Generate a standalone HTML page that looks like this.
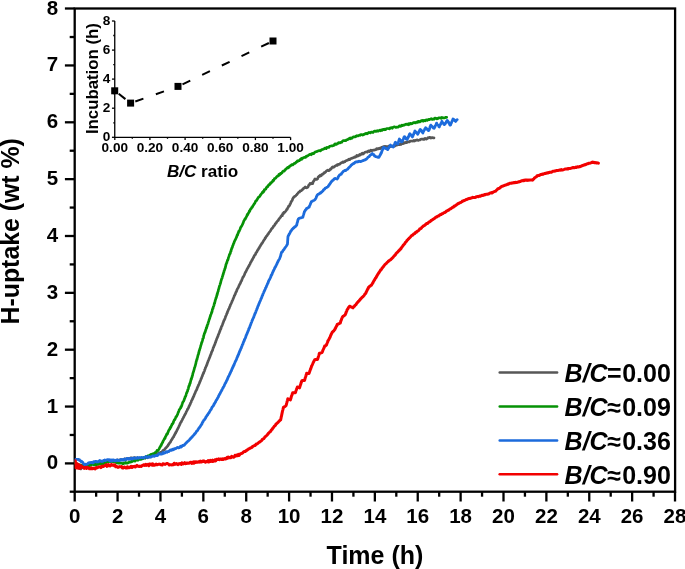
<!DOCTYPE html>
<html lang="en"><head><meta charset="utf-8"><title>H-uptake vs Time</title>
<style>html,body{margin:0;padding:0;background:#fff;}body{width:685px;height:569px;overflow:hidden;}svg{display:block;will-change:transform;}text{font-family:'Liberation Sans', sans-serif;font-weight:bold;fill:#000;}</style>
</head><body>
<svg width="685" height="569" viewBox="0 0 685 569">
<rect x="0" y="0" width="685" height="569" fill="#fff"/>
<rect x="74.7" y="8.5" width="600.4" height="483.2" fill="none" stroke="#000" stroke-width="2.3"/>
<g stroke="#000" stroke-width="2.3">
<line x1="74.70" y1="491.7" x2="74.70" y2="501.5"/>
<line x1="96.14" y1="491.7" x2="96.14" y2="496.7"/>
<line x1="117.58" y1="491.7" x2="117.58" y2="501.5"/>
<line x1="139.02" y1="491.7" x2="139.02" y2="496.7"/>
<line x1="160.46" y1="491.7" x2="160.46" y2="501.5"/>
<line x1="181.90" y1="491.7" x2="181.90" y2="496.7"/>
<line x1="203.34" y1="491.7" x2="203.34" y2="501.5"/>
<line x1="224.78" y1="491.7" x2="224.78" y2="496.7"/>
<line x1="246.22" y1="491.7" x2="246.22" y2="501.5"/>
<line x1="267.66" y1="491.7" x2="267.66" y2="496.7"/>
<line x1="289.10" y1="491.7" x2="289.10" y2="501.5"/>
<line x1="310.54" y1="491.7" x2="310.54" y2="496.7"/>
<line x1="331.98" y1="491.7" x2="331.98" y2="501.5"/>
<line x1="353.42" y1="491.7" x2="353.42" y2="496.7"/>
<line x1="374.86" y1="491.7" x2="374.86" y2="501.5"/>
<line x1="396.30" y1="491.7" x2="396.30" y2="496.7"/>
<line x1="417.74" y1="491.7" x2="417.74" y2="501.5"/>
<line x1="439.18" y1="491.7" x2="439.18" y2="496.7"/>
<line x1="460.62" y1="491.7" x2="460.62" y2="501.5"/>
<line x1="482.06" y1="491.7" x2="482.06" y2="496.7"/>
<line x1="503.50" y1="491.7" x2="503.50" y2="501.5"/>
<line x1="524.94" y1="491.7" x2="524.94" y2="496.7"/>
<line x1="546.38" y1="491.7" x2="546.38" y2="501.5"/>
<line x1="567.82" y1="491.7" x2="567.82" y2="496.7"/>
<line x1="589.26" y1="491.7" x2="589.26" y2="501.5"/>
<line x1="610.70" y1="491.7" x2="610.70" y2="496.7"/>
<line x1="632.14" y1="491.7" x2="632.14" y2="501.5"/>
<line x1="653.58" y1="491.7" x2="653.58" y2="496.7"/>
<line x1="675.02" y1="491.7" x2="675.02" y2="501.5"/>
<line x1="74.7" y1="491.70" x2="69.7" y2="491.70"/>
<line x1="74.7" y1="463.40" x2="64.9" y2="463.40"/>
<line x1="74.7" y1="434.97" x2="69.7" y2="434.97"/>
<line x1="74.7" y1="406.55" x2="64.9" y2="406.55"/>
<line x1="74.7" y1="378.12" x2="69.7" y2="378.12"/>
<line x1="74.7" y1="349.70" x2="64.9" y2="349.70"/>
<line x1="74.7" y1="321.27" x2="69.7" y2="321.27"/>
<line x1="74.7" y1="292.85" x2="64.9" y2="292.85"/>
<line x1="74.7" y1="264.42" x2="69.7" y2="264.42"/>
<line x1="74.7" y1="236.00" x2="64.9" y2="236.00"/>
<line x1="74.7" y1="207.57" x2="69.7" y2="207.57"/>
<line x1="74.7" y1="179.15" x2="64.9" y2="179.15"/>
<line x1="74.7" y1="150.72" x2="69.7" y2="150.72"/>
<line x1="74.7" y1="122.30" x2="64.9" y2="122.30"/>
<line x1="74.7" y1="93.87" x2="69.7" y2="93.87"/>
<line x1="74.7" y1="65.45" x2="64.9" y2="65.45"/>
<line x1="74.7" y1="37.02" x2="69.7" y2="37.02"/>
<line x1="74.7" y1="8.50" x2="64.9" y2="8.50"/>
</g>
<clipPath id="cp"><rect x="74.6" y="0" width="620" height="569"/></clipPath>
<g fill="none" stroke-width="2.9" stroke-linejoin="round" stroke-linecap="round" clip-path="url(#cp)">
<path stroke="#575757" stroke-width="2.7" d="M74.8,461.8 74.9,462.6 75.1,462.3 75.5,463.2 76.0,464.8 76.5,465.0 77.0,465.5 77.5,466.0 78.1,467.1 78.8,467.3 79.4,468.4 80.1,468.6 80.8,468.9 81.5,468.0 82.1,467.7 82.8,467.5 83.5,467.6 84.2,467.6 85.0,466.9 85.6,466.5 86.1,466.4 86.7,466.4 87.4,466.1 88.0,465.9 88.6,465.7 89.3,465.1 90.0,464.2 90.6,464.7 91.4,463.8 92.1,463.8 92.8,463.3 93.4,463.6 94.1,462.8 94.7,462.7 95.4,462.5 96.1,462.3 96.8,463.1 97.5,462.6 98.2,462.2 98.9,462.1 99.7,462.8 100.4,462.1 101.1,461.7 101.9,462.3 102.7,462.0 103.4,462.3 104.2,461.1 105.0,461.5 105.6,461.8 106.3,461.7 107.0,461.8 107.7,460.6 108.4,460.9 109.1,460.6 109.8,460.6 110.6,461.5 111.3,461.0 112.1,461.3 112.8,460.6 113.6,461.1 114.3,460.5 115.1,460.3 115.8,460.8 116.5,461.0 117.3,459.9 118.0,460.4 118.7,460.4 119.4,459.8 120.1,459.9 120.7,459.6 121.4,459.6 122.0,459.6 122.6,459.9 123.4,459.9 124.2,459.2 125.0,458.8 125.7,459.1 126.4,459.4 127.1,458.6 127.8,458.6 128.4,458.4 129.1,459.0 129.8,458.5 130.5,457.9 131.3,457.8 132.0,458.1 132.7,458.2 133.4,458.3 134.1,457.6 134.9,457.7 135.6,458.3 136.4,458.0 137.2,457.9 137.9,457.9 138.7,458.7 139.5,457.9 140.2,458.2 140.9,458.0 141.6,458.0 142.3,458.6 143.0,458.7 143.6,457.8 144.4,457.5 145.2,458.0 145.9,457.2 146.7,456.8 147.4,457.7 148.1,456.9 148.7,457.2 149.4,456.5 150.0,456.9 150.7,456.1 151.4,455.5 152.0,455.1 152.7,455.5 153.3,455.4 154.0,455.5 154.7,454.3 155.4,454.7 156.2,454.2 156.9,454.2 157.7,453.5 158.5,453.4 159.2,453.3 159.8,453.5 160.4,452.4 161.0,452.2 161.6,452.0 162.2,451.7 162.8,450.7 163.3,450.2 163.9,450.2 164.5,449.7 165.0,448.9 165.5,448.1 166.0,448.1 166.5,447.2 167.0,446.9 167.4,446.2 167.9,445.7 168.3,444.7 168.8,444.4 169.2,443.4 169.7,442.9 170.1,442.5 170.5,441.9 170.9,441.0 171.2,440.4 171.6,439.9 172.0,439.4 172.4,438.7 172.7,437.9 173.1,437.4 173.5,437.0 173.8,436.5 174.2,435.3 174.6,435.0 174.9,434.4 175.3,433.3 175.6,433.2 176.0,432.0 176.4,431.6 176.8,430.7 177.2,429.9 177.7,428.9 178.1,428.1 178.5,427.3 178.9,426.4 179.3,425.7 179.7,424.8 180.0,424.1 180.3,423.2 180.6,423.0 180.8,422.5 181.0,422.0 181.1,422.1 181.2,422.1 181.5,421.3 181.8,420.5 182.2,420.0 182.5,419.2 182.8,418.6 183.1,418.1 183.5,417.3 183.8,416.9 184.1,416.3 184.4,415.4 184.7,415.1 185.1,414.2 185.4,413.9 185.7,413.3 186.0,412.6 186.3,411.7 186.6,411.3 186.9,410.6 187.2,410.3 187.5,409.2 187.9,409.0 188.2,408.4 188.5,407.7 188.8,407.1 189.1,406.1 189.4,405.9 189.7,405.0 190.0,404.6 190.3,404.0 190.6,402.9 190.9,402.6 191.2,402.1 191.4,400.9 191.7,400.4 192.0,400.1 192.3,399.1 192.6,398.9 192.9,397.8 193.2,397.5 193.5,396.5 193.8,396.1 194.0,395.7 194.3,394.6 194.6,394.0 194.9,393.5 195.2,392.7 195.5,391.9 195.7,391.4 196.0,390.7 196.3,390.5 196.6,389.7 196.9,389.2 197.1,388.2 197.4,387.9 197.7,386.8 198.0,386.4 198.2,385.9 198.5,385.0 198.8,384.7 199.1,383.9 199.3,383.2 199.6,382.8 199.9,381.6 200.1,381.5 200.4,380.7 200.7,379.9 200.9,379.5 201.2,378.5 201.5,378.3 201.7,377.4 202.0,376.6 202.3,376.2 202.5,375.4 202.8,374.5 203.1,374.2 203.3,373.2 203.6,373.0 203.9,372.0 204.1,371.6 204.4,371.1 204.6,370.2 204.9,369.6 205.2,368.8 205.4,367.9 205.7,367.3 205.9,366.7 206.2,366.3 206.5,365.6 206.7,365.0 207.0,364.5 207.2,363.4 207.5,362.8 207.7,362.4 208.0,361.4 208.3,360.7 208.5,360.3 208.8,359.5 209.0,359.0 209.3,358.2 209.5,357.8 209.8,357.2 210.0,356.3 210.3,355.9 210.5,355.1 210.8,354.3 211.1,354.1 211.3,353.0 211.6,352.3 211.8,351.6 212.1,351.3 212.3,350.8 212.6,350.1 212.8,349.2 213.1,348.4 213.3,347.6 213.6,347.3 213.8,346.6 214.1,345.9 214.4,345.4 214.6,344.6 214.9,344.2 215.1,343.5 215.4,342.5 215.6,342.3 215.9,341.1 216.1,340.7 216.4,340.0 216.6,339.2 216.9,338.5 217.1,338.2 217.4,337.1 217.7,336.8 217.9,336.4 218.2,335.2 218.4,334.6 218.7,334.2 218.9,333.5 219.2,332.9 219.4,332.4 219.7,331.3 220.0,330.8 220.2,330.1 220.5,329.3 220.7,329.1 221.0,328.4 221.2,327.7 221.5,326.6 221.8,326.5 222.0,325.8 222.3,325.0 222.5,324.5 222.8,323.6 223.1,322.9 223.3,322.1 223.6,321.6 223.8,320.8 224.1,320.3 224.4,319.9 224.6,319.2 224.9,318.7 225.2,317.9 225.4,317.0 225.7,316.5 225.9,315.8 226.2,315.4 226.5,314.6 226.7,313.8 227.0,313.3 227.3,312.9 227.5,311.8 227.8,311.5 228.1,310.4 228.4,309.9 228.6,309.2 228.9,308.9 229.2,308.3 229.4,307.6 229.7,306.7 230.0,306.4 230.3,305.4 230.5,304.7 230.8,304.4 231.1,303.6 231.4,303.0 231.6,302.4 231.9,301.9 232.2,300.9 232.5,300.5 232.8,299.8 233.0,299.2 233.3,298.4 233.6,297.9 233.9,297.1 234.2,296.3 234.4,295.6 234.7,295.3 235.0,294.3 235.3,294.1 235.6,293.0 235.9,292.3 236.2,291.7 236.5,291.6 236.7,290.6 237.0,289.9 237.3,289.1 237.6,288.5 237.9,288.3 238.2,287.6 238.5,287.0 238.8,286.4 239.1,285.4 239.4,285.0 239.7,284.3 240.0,283.9 240.3,283.3 240.6,282.7 240.9,281.6 241.2,281.4 241.5,280.8 241.8,280.2 242.1,279.1 242.4,278.5 242.7,277.8 243.0,277.1 243.3,277.0 243.6,276.3 244.0,275.6 244.3,275.1 244.6,274.3 244.9,273.5 245.2,272.8 245.5,272.1 245.8,271.9 246.2,271.0 246.5,270.4 246.8,269.9 247.1,269.0 247.5,268.5 247.8,267.9 248.1,267.5 248.4,266.7 248.8,266.1 249.1,265.8 249.4,264.9 249.7,264.5 250.1,263.8 250.4,262.8 250.7,262.4 251.1,261.8 251.4,261.4 251.7,260.5 252.1,260.1 252.4,259.4 252.8,258.6 253.1,258.4 253.5,257.3 253.8,257.2 254.1,256.2 254.5,255.4 254.8,255.0 255.2,254.7 255.5,254.2 255.9,253.0 256.2,252.7 256.6,252.1 257.0,251.7 257.3,250.7 257.7,250.3 258.0,249.6 258.4,249.3 258.8,248.3 259.1,248.2 259.5,247.2 259.9,246.5 260.2,246.2 260.6,245.5 261.0,244.7 261.3,244.4 261.7,243.5 262.1,243.3 262.5,242.6 262.8,242.1 263.2,241.4 263.6,240.7 264.0,240.1 264.4,239.5 264.8,239.2 265.1,238.1 265.5,238.0 265.9,236.9 266.3,236.5 266.7,235.9 267.1,235.7 267.5,234.9 267.9,234.2 268.3,234.0 268.7,233.0 269.1,232.5 269.5,232.0 269.9,231.6 270.3,231.0 270.7,230.3 271.1,229.6 271.5,229.0 272.0,228.3 272.4,228.2 272.8,227.5 273.2,227.0 273.6,226.0 274.1,225.6 274.5,225.3 274.9,224.6 275.3,223.7 275.8,223.4 276.2,223.1 276.6,222.1 277.1,221.5 277.5,221.0 277.9,220.7 278.4,220.2 278.8,219.3 279.2,218.7 279.7,218.2 280.1,217.7 280.6,217.3 281.0,216.3 281.5,215.9 281.9,215.2 282.4,215.6 282.5,214.7 282.9,213.4 283.4,213.9 283.9,212.3 284.4,212.2 284.8,212.4 285.3,211.6 285.8,211.0 286.3,210.2 286.7,209.4 287.2,209.4 287.6,208.1 287.9,207.6 288.3,207.2 288.6,206.2 289.0,206.0 289.3,205.9 289.7,205.2 290.0,204.3 290.4,203.9 290.7,203.0 291.0,202.0 291.3,201.9 291.6,201.0 292.0,200.7 292.3,200.3 292.6,199.0 292.9,198.5 293.2,198.1 293.7,197.2 294.2,196.5 294.7,196.5 295.2,196.2 295.8,195.6 296.3,195.0 296.8,194.6 297.3,193.9 297.8,193.4 298.4,192.7 298.9,192.1 299.5,192.0 300.1,190.9 300.7,190.9 301.2,190.8 301.8,190.3 302.4,189.8 303.0,188.8 303.6,188.5 304.1,188.0 304.7,187.7 305.3,187.0 306.0,187.5 306.8,187.9 307.5,187.2 307.9,187.1 308.2,186.6 308.6,185.5 308.9,184.9 309.3,184.9 310.0,183.5 310.7,183.9 311.3,183.2 312.0,183.7 312.7,183.6 313.0,182.5 313.4,181.4 313.7,181.3 314.0,180.6 314.3,180.2 314.7,179.3 315.0,178.9 315.9,179.5 316.7,179.5 317.2,178.8 317.6,178.8 318.1,177.2 318.5,177.2 319.0,176.2 319.7,176.3 320.3,175.2 321.0,175.9 321.7,174.9 322.3,174.2 323.0,174.1 323.6,173.7 324.1,172.7 324.7,172.7 325.3,172.1 325.8,171.9 326.4,170.9 327.1,170.6 327.8,170.2 328.4,170.6 329.1,170.6 329.8,169.8 330.4,168.9 331.0,169.1 331.5,168.1 332.1,167.4 332.8,166.9 333.4,167.3 334.1,167.0 334.7,166.4 335.4,165.9 336.0,165.6 336.7,164.9 337.3,165.4 338.0,164.4 338.6,164.4 339.3,164.3 339.9,164.0 340.6,163.3 341.2,162.8 342.0,162.7 342.7,161.9 343.5,162.4 344.2,161.5 345.0,161.7 345.7,160.8 346.4,160.7 347.1,160.3 347.7,160.2 348.4,159.7 349.1,159.2 349.7,159.7 350.4,158.9 351.0,158.5 351.6,158.3 352.3,158.2 352.9,157.8 353.6,157.7 354.2,157.4 354.8,156.8 355.5,157.1 356.1,156.7 356.8,155.5 357.5,156.1 358.2,155.9 358.9,155.5 359.6,154.5 360.3,155.0 361.0,154.5 361.7,153.5 362.4,153.2 363.1,154.0 363.8,153.4 364.5,152.6 365.2,152.2 365.9,152.0 366.6,151.8 367.3,152.2 368.0,151.4 368.7,150.8 369.4,151.5 370.1,151.1 370.8,150.1 371.5,150.8 372.2,150.3 372.9,150.3 373.6,150.0 374.4,150.1 375.1,149.8 375.8,149.7 376.5,148.7 377.2,149.1 377.9,148.7 378.6,148.8 379.3,148.2 380.0,148.6 380.7,148.0 381.4,147.4 382.1,147.2 382.8,146.9 383.5,147.1 384.2,146.4 384.9,146.8 385.6,146.4 386.3,146.7 387.0,146.7 387.7,146.6 388.4,147.0 389.1,145.9 389.8,146.8 390.5,146.3 391.2,146.4 391.9,146.3 392.6,146.4 393.3,145.6 394.0,145.5 394.8,146.0 395.5,144.8 396.2,145.3 396.9,145.1 397.6,144.2 398.3,144.7 399.0,144.6 399.7,144.7 400.4,143.8 401.1,144.4 401.8,143.6 402.5,143.4 403.2,143.7 403.9,142.4 404.6,143.1 405.3,142.8 406.0,142.2 406.7,142.7 407.4,141.9 408.1,141.9 408.7,141.8 409.4,141.9 410.1,141.0 410.8,141.1 411.6,141.0 412.3,141.0 413.1,141.2 413.8,140.4 414.6,141.0 415.3,140.3 416.1,140.3 416.9,139.9 417.6,140.1 418.4,140.5 419.1,140.0 419.9,140.0 420.6,139.3 421.4,139.2 422.1,139.0 422.9,139.3 423.6,139.2 424.4,139.3 425.1,138.3 425.9,139.0 426.6,139.1 427.3,138.5 428.0,137.7 428.7,137.9 429.4,137.3 430.1,137.4 430.8,138.1 431.6,137.7 432.4,137.7 433.2,137.8 434.0,137.9"/>
<path stroke="#069206" stroke-width="2.7" d="M74.8,462.3 75.0,462.3 75.6,463.4 76.3,463.3 77.0,464.3 77.7,464.5 78.4,464.4 79.3,465.2 80.1,464.9 81.0,465.4 81.6,465.1 82.3,465.1 83.0,465.5 83.7,465.9 84.5,465.0 85.2,465.1 86.0,465.5 86.7,465.7 87.5,465.3 88.2,465.0 89.0,465.6 89.7,464.6 90.5,465.4 91.2,464.8 92.0,464.5 92.7,464.5 93.5,464.6 94.2,465.1 95.0,464.3 95.7,464.7 96.5,464.7 97.2,464.4 97.9,464.5 98.7,464.0 99.4,463.9 100.1,464.0 100.9,464.4 101.6,464.0 102.3,463.8 103.0,463.9 103.7,463.5 104.5,463.1 105.2,463.3 105.9,462.8 106.6,462.0 107.3,462.0 108.0,461.6 108.6,461.7 109.3,461.4 110.0,460.8 110.8,461.5 111.5,460.7 112.3,461.2 113.0,461.7 113.7,461.3 114.5,461.9 115.2,461.6 116.0,462.5 116.7,462.7 117.4,462.6 118.1,463.1 118.9,462.6 119.6,463.2 120.3,463.2 121.1,463.2 121.8,463.1 122.6,463.6 123.3,463.7 124.0,463.1 124.7,463.2 125.4,462.5 126.1,463.1 126.9,462.9 127.6,463.1 128.4,462.8 129.1,462.1 129.8,462.0 130.6,462.2 131.3,461.3 132.0,461.6 132.8,461.1 133.5,460.8 134.3,460.5 135.0,461.1 135.8,460.2 136.5,460.1 137.2,460.0 137.9,460.3 138.6,459.2 139.3,459.4 140.0,459.3 140.7,459.4 141.4,459.1 142.1,458.9 142.8,458.0 143.4,457.9 144.1,457.6 144.7,457.9 145.4,457.8 146.0,456.6 146.8,456.3 147.5,456.1 148.2,455.8 149.0,455.7 149.7,455.5 150.4,454.8 151.0,454.3 151.8,454.3 152.6,453.9 153.4,453.7 154.1,453.7 154.7,453.0 155.3,452.4 155.9,452.1 156.5,451.7 157.0,450.5 157.6,450.9 158.2,450.1 158.7,449.6 159.2,448.8 159.7,447.6 160.3,446.7 160.8,445.5 161.2,445.4 161.4,444.6 161.7,443.9 162.0,443.5 162.3,442.8 162.6,442.4 163.0,441.4 163.3,440.7 163.6,440.3 163.9,439.6 164.2,439.3 164.6,438.3 164.9,438.6 165.2,437.7 165.5,436.6 165.9,436.1 166.2,435.5 166.5,434.9 166.8,434.0 167.2,434.2 167.5,433.8 167.8,432.6 168.2,432.0 168.5,430.9 168.8,430.3 169.1,429.9 169.5,429.2 169.8,429.2 170.1,427.9 170.5,427.1 170.8,427.5 171.1,426.4 171.5,425.4 171.8,425.2 172.1,424.0 172.4,423.9 172.8,423.8 173.1,423.1 173.4,422.3 173.7,421.2 174.1,420.6 174.4,419.8 174.7,419.8 175.0,419.0 175.4,418.6 175.7,417.5 176.0,416.7 176.3,416.8 176.6,416.3 177.0,415.5 177.3,414.9 177.6,414.3 177.9,413.5 178.2,412.3 178.5,412.0 178.8,411.2 179.1,410.2 179.4,409.6 179.7,409.2 180.0,408.6 180.3,408.4 180.6,408.1 180.9,406.9 181.2,406.8 181.5,406.2 181.8,405.5 182.1,404.2 182.4,403.4 182.6,402.8 182.9,402.1 183.2,401.5 183.5,401.3 183.7,401.0 184.0,400.3 184.3,399.2 184.5,398.8 184.8,398.3 185.1,396.8 185.3,396.8 185.6,396.4 185.8,395.6 186.1,395.0 186.3,394.0 186.5,393.0 186.8,393.0 187.0,391.9 187.3,391.7 187.5,391.3 187.7,390.0 188.0,389.3 188.2,389.2 188.4,388.3 188.6,387.1 188.9,386.4 189.1,385.7 189.3,385.9 189.5,385.1 189.7,383.7 189.9,383.8 190.2,383.3 190.4,382.3 190.6,381.3 190.8,380.8 191.0,379.7 191.2,378.9 191.4,379.3 191.6,378.3 191.8,377.4 192.0,377.2 192.2,376.0 192.4,375.8 192.6,375.1 192.8,373.7 193.0,373.1 193.2,372.5 193.4,371.8 193.6,371.5 193.8,370.4 194.0,369.9 194.2,368.9 194.3,369.1 194.5,367.8 194.7,367.3 194.9,366.7 195.1,366.4 195.3,365.2 195.5,365.1 195.7,363.9 195.9,363.3 196.0,362.6 196.2,361.4 196.4,361.1 196.6,360.2 196.8,359.3 197.0,359.5 197.2,358.1 197.4,357.8 197.5,357.4 197.7,356.5 197.9,355.6 198.1,355.1 198.3,354.5 198.5,354.1 198.7,352.7 198.9,352.5 199.0,351.5 199.2,350.8 199.4,350.7 199.6,349.7 199.8,349.1 200.0,348.6 200.2,348.1 200.4,346.9 200.6,346.4 200.8,345.7 201.0,345.0 201.2,344.5 201.4,343.6 201.6,343.0 201.8,342.3 202.0,342.1 202.2,341.2 202.4,340.7 202.6,340.1 202.8,338.7 203.0,338.3 203.3,338.1 203.5,337.3 203.7,335.8 203.9,335.2 204.1,334.8 204.3,333.8 204.6,333.3 204.8,332.4 205.0,332.4 205.2,331.9 205.4,331.3 205.7,329.8 205.9,329.8 206.1,329.1 206.3,327.8 206.6,328.0 206.8,327.4 207.0,325.9 207.2,326.1 207.5,324.8 207.7,324.2 207.9,324.1 208.1,323.3 208.4,321.9 208.6,321.5 208.8,320.9 209.0,320.1 209.3,319.2 209.5,318.7 209.7,318.5 209.9,317.1 210.2,317.0 210.4,316.2 210.6,315.1 210.8,314.7 211.0,314.4 211.3,313.6 211.5,312.4 211.7,312.8 211.9,311.9 212.1,311.4 212.3,309.8 212.6,309.3 212.8,308.4 213.0,308.6 213.2,307.3 213.4,306.5 213.6,306.2 213.8,306.0 214.0,305.3 214.2,304.0 214.4,303.2 214.6,303.4 214.8,302.3 215.0,301.8 215.2,300.5 215.4,299.8 215.6,299.8 215.8,298.8 216.0,297.8 216.2,298.0 216.4,297.0 216.6,296.6 216.8,295.1 217.0,295.3 217.2,293.7 217.4,293.9 217.6,292.8 217.8,292.0 218.0,291.6 218.2,291.3 218.4,289.9 218.6,289.1 218.8,288.9 219.0,287.9 219.2,287.1 219.4,286.5 219.6,285.7 219.8,285.2 220.0,284.6 220.2,283.9 220.4,283.8 220.6,282.6 220.8,282.1 221.0,281.1 221.2,280.6 221.4,279.6 221.6,279.2 221.8,278.3 222.0,278.4 222.2,277.5 222.4,276.4 222.6,276.1 222.8,275.9 223.0,274.3 223.2,274.4 223.4,273.3 223.6,272.7 223.8,272.4 224.0,271.3 224.2,270.7 224.4,270.3 224.6,269.9 224.8,268.6 225.1,268.4 225.3,267.6 225.5,266.9 225.7,265.9 225.9,265.2 226.1,264.2 226.4,263.6 226.6,262.9 226.8,263.0 227.0,261.8 227.3,261.0 227.5,260.2 227.7,260.4 227.9,259.8 228.2,258.9 228.4,257.8 228.6,257.1 228.9,256.5 229.1,256.0 229.3,255.0 229.6,254.7 229.8,253.8 230.0,253.9 230.3,253.3 230.5,252.1 230.8,251.1 231.0,251.3 231.2,249.9 231.5,249.3 231.7,248.2 232.0,248.0 232.2,247.4 232.5,246.8 232.7,245.8 233.0,245.5 233.3,244.3 233.5,243.9 233.8,243.1 234.0,242.8 234.3,241.7 234.6,241.0 234.8,240.7 235.1,240.0 235.4,239.7 235.6,239.0 235.9,238.6 236.2,237.8 236.5,237.3 236.7,236.8 237.0,235.6 237.3,234.9 237.6,235.0 237.9,233.4 238.2,233.4 238.4,232.7 238.7,231.4 239.0,231.6 239.3,231.0 239.6,230.1 239.9,229.6 240.2,229.0 240.5,227.7 240.8,227.5 241.1,226.8 241.4,226.5 241.7,225.9 242.1,225.3 242.4,224.4 242.7,224.1 243.0,223.2 243.3,222.6 243.6,221.5 244.0,220.6 244.3,220.1 244.6,219.8 245.0,218.9 245.3,219.0 245.6,218.1 246.0,217.6 246.3,217.0 246.6,216.4 247.0,215.6 247.3,214.4 247.7,214.7 248.0,214.0 248.4,213.2 248.7,212.6 249.1,212.1 249.4,210.9 249.8,211.0 250.2,209.9 250.5,209.1 250.9,208.7 251.3,208.6 251.7,207.4 252.0,207.4 252.4,207.1 252.8,206.0 253.2,205.3 253.6,204.8 253.9,204.4 254.3,203.9 254.7,203.2 255.1,202.6 255.5,201.4 255.9,200.9 256.3,200.5 256.7,200.4 257.1,199.4 257.5,199.1 258.0,197.9 258.4,197.4 258.8,197.1 259.2,197.0 259.6,196.4 260.1,195.8 260.5,194.9 260.9,194.6 261.3,193.9 261.8,193.4 262.2,192.5 262.6,192.8 263.1,191.5 263.5,191.8 264.0,191.2 264.4,189.6 264.9,189.6 265.3,189.4 265.8,189.1 266.2,188.0 266.7,187.2 267.2,186.7 267.6,186.9 268.1,185.6 268.6,185.5 269.0,184.5 269.5,184.4 270.0,184.4 270.5,182.9 270.9,183.2 271.4,182.3 271.9,182.3 272.4,181.6 272.9,180.5 273.4,180.8 273.9,179.8 274.4,178.8 274.9,178.3 275.4,178.4 275.9,177.8 276.4,177.2 276.9,176.5 277.4,176.3 277.9,175.8 278.4,175.9 278.9,174.5 279.5,174.9 280.0,174.5 280.5,173.3 281.0,173.7 281.6,173.0 282.1,172.8 282.6,171.6 283.2,171.3 283.7,170.9 284.3,171.1 284.8,170.2 285.3,169.5 285.9,169.2 286.5,168.6 287.0,167.9 287.6,167.5 288.1,167.9 288.7,166.9 289.2,167.2 289.8,166.1 290.4,165.7 290.9,165.5 291.5,164.8 292.1,164.6 292.7,164.9 293.3,164.4 293.8,163.9 294.4,163.3 295.0,163.3 295.6,162.9 296.2,162.1 296.8,161.9 297.4,160.8 298.0,161.2 298.6,160.6 299.2,160.6 299.8,160.1 300.4,159.3 301.0,158.7 301.6,159.4 302.2,158.1 302.9,158.2 303.5,157.7 304.1,157.4 304.7,157.5 305.4,157.5 306.0,156.4 306.6,156.5 307.3,155.8 307.9,155.8 308.5,155.3 309.2,154.7 309.8,154.4 310.5,154.2 311.1,154.7 311.7,153.9 312.4,153.4 313.0,153.8 313.7,153.6 314.3,152.8 315.0,152.1 315.7,151.9 316.3,151.6 317.0,151.6 317.6,151.0 318.3,150.9 318.9,150.7 319.6,150.7 320.3,150.8 320.9,150.4 321.6,149.8 322.2,149.5 322.9,149.4 323.6,149.0 324.2,148.7 324.9,148.1 325.5,148.1 326.2,148.6 326.9,147.4 327.5,147.5 328.2,147.4 328.8,147.4 329.5,146.4 330.1,146.2 330.8,146.0 331.5,145.9 332.1,145.7 332.8,145.9 333.4,145.6 334.1,145.3 334.7,144.1 335.4,143.9 336.0,144.3 336.7,144.3 337.3,143.5 338.0,143.4 338.6,142.5 339.2,142.6 339.9,143.0 340.5,142.6 341.2,142.3 341.8,142.2 342.5,141.1 343.1,140.7 343.8,140.5 344.4,140.6 345.0,140.6 345.7,140.6 346.3,140.1 347.0,139.8 347.6,139.6 348.3,139.1 348.9,138.9 349.6,138.1 350.3,138.7 350.9,137.9 351.6,138.4 352.2,137.9 352.9,137.3 353.5,136.8 354.2,136.8 354.9,137.0 355.5,136.8 356.2,136.0 356.9,135.7 357.5,136.0 358.2,135.9 358.9,135.5 359.5,135.1 360.2,135.3 360.9,134.5 361.5,134.6 362.2,134.6 362.9,135.0 363.6,134.4 364.2,134.5 364.9,133.9 365.6,133.5 366.3,133.3 366.9,133.9 367.6,133.5 368.3,132.8 369.0,132.4 369.7,132.7 370.3,132.8 371.0,132.3 371.7,132.0 372.4,132.3 373.1,132.4 373.8,131.5 374.4,131.1 375.1,131.3 375.8,131.2 376.5,131.3 377.2,130.7 377.9,131.2 378.6,130.9 379.2,130.5 379.9,130.1 380.6,130.7 381.3,129.9 382.0,130.3 382.7,129.5 383.4,129.3 384.0,129.8 384.7,129.1 385.4,129.7 386.1,129.0 386.8,128.6 387.5,128.5 388.2,128.5 388.9,128.7 389.6,128.8 390.2,127.8 390.9,127.9 391.6,127.6 392.3,128.3 393.0,127.2 393.7,127.0 394.4,126.8 395.1,127.0 395.7,127.4 396.4,127.3 397.1,127.0 397.8,127.1 398.5,126.9 399.2,126.1 399.9,125.8 400.5,126.4 401.2,126.1 401.9,125.1 402.6,125.7 403.3,125.2 404.0,125.1 404.7,124.9 405.3,124.5 406.0,124.2 406.7,124.3 407.4,124.2 408.1,124.7 408.8,123.7 409.4,124.4 410.1,123.4 410.8,123.4 411.5,123.8 412.2,123.6 412.9,123.0 413.5,122.5 414.2,122.8 414.9,122.5 415.6,122.9 416.3,122.0 417.0,122.0 417.6,122.4 418.3,121.3 419.0,121.6 419.7,121.9 420.4,121.6 421.1,120.7 421.7,120.5 422.4,120.4 423.1,121.2 423.8,120.3 424.5,120.7 425.2,120.8 425.8,120.0 426.5,119.8 427.2,120.4 427.9,119.9 428.6,119.4 429.3,119.7 430.0,119.2 430.7,119.0 431.3,118.6 432.0,119.3 432.7,119.4 433.4,118.9 434.1,119.2 434.8,118.1 435.5,118.2 436.2,118.4 436.9,118.8 437.6,118.7 438.3,118.0 439.0,117.8 439.7,117.9 440.4,117.9 441.1,118.3 441.8,117.4 442.5,118.0 443.2,117.9 443.9,117.9 444.6,117.8 445.3,117.6 446.0,117.3 446.7,117.3"/>
<path stroke="#1c6bdc" stroke-width="2.8" d="M74.8,459.9 75.3,459.7 76.3,459.3 77.3,459.3 78.0,459.3 78.6,459.8 79.3,459.6 80.0,460.7 80.6,460.9 81.2,461.8 81.8,461.5 82.3,462.1 82.9,462.4 83.4,463.8 84.2,464.5 85.1,464.5 85.7,464.1 86.3,464.5 87.1,464.2 87.8,463.6 88.6,462.9 89.5,462.7 90.1,462.8 90.8,462.5 91.5,462.5 92.2,462.6 92.9,462.9 93.7,461.6 94.5,462.1 95.3,461.3 96.0,461.3 96.8,462.0 97.6,461.6 98.3,461.9 99.0,461.2 99.7,460.5 100.5,460.9 101.2,461.1 101.9,461.4 102.6,461.4 103.4,460.6 104.1,460.4 104.8,460.0 105.5,460.6 106.3,460.0 107.0,459.8 107.7,459.6 108.5,459.6 109.2,460.5 109.9,459.8 110.7,461.0 111.4,459.9 112.1,460.9 112.9,460.0 113.6,459.9 114.3,460.8 115.1,460.2 115.8,460.8 116.5,460.0 117.3,459.8 118.0,460.7 118.7,460.5 119.5,460.6 120.2,460.3 120.9,459.4 121.7,460.0 122.4,460.0 123.1,459.5 123.8,460.0 124.5,459.1 125.3,459.9 126.0,459.5 126.8,458.5 127.5,458.4 128.3,459.2 129.0,459.3 129.7,458.3 130.5,458.5 131.2,459.0 132.0,458.2 132.7,459.0 133.4,458.4 134.1,457.8 134.8,458.1 135.5,458.3 136.2,458.1 136.9,458.3 137.6,457.5 138.4,458.3 139.2,457.6 140.0,457.9 140.6,457.8 141.3,457.5 141.9,457.3 142.6,457.8 143.3,457.9 143.9,457.7 144.7,457.3 145.4,456.9 146.1,456.5 146.8,457.6 147.6,457.2 148.3,457.3 149.0,456.5 149.8,456.8 150.5,457.2 151.2,456.9 152.0,456.5 152.7,455.9 153.4,456.0 154.1,456.4 154.8,455.6 155.5,455.8 156.2,455.5 156.9,455.7 157.6,455.4 158.3,454.5 159.0,453.9 159.7,454.0 160.4,454.0 161.1,453.9 161.8,454.0 162.5,453.8 163.1,452.5 163.8,453.3 164.5,453.0 165.1,452.9 165.7,452.2 166.4,451.6 167.0,452.2 167.5,451.9 168.1,451.5 168.9,451.6 169.6,450.5 170.4,449.9 171.1,450.3 171.7,450.3 172.4,449.3 173.0,449.8 173.7,449.7 174.3,448.6 175.0,448.8 175.7,448.7 176.4,448.2 177.1,447.6 177.8,447.5 178.5,447.9 179.2,447.7 179.9,447.1 180.5,446.3 181.1,447.0 181.8,446.6 182.5,445.5 183.2,445.5 183.8,445.4 184.4,445.0 185.0,444.0 185.6,443.5 186.2,443.1 186.7,442.3 187.3,441.8 187.8,441.3 188.4,441.0 188.9,440.3 189.4,439.9 189.9,439.2 190.5,438.7 191.0,437.9 191.5,437.3 192.0,437.3 192.5,436.3 193.1,435.6 193.6,435.3 194.1,434.8 194.7,433.8 195.2,433.5 195.7,432.7 196.1,432.3 196.5,431.4 196.9,430.9 197.3,430.9 197.7,430.2 198.1,429.4 198.5,428.8 198.9,428.1 199.3,427.8 199.8,426.9 200.3,426.4 200.8,425.5 201.4,424.7 201.9,423.9 202.3,422.8 202.7,422.1 202.9,421.9 202.8,421.7 203.3,421.0 203.7,420.4 204.1,420.1 204.5,419.7 204.9,418.9 205.2,418.6 205.6,418.0 206.0,416.9 206.4,416.6 206.8,415.9 207.2,415.2 207.6,415.1 208.0,414.0 208.3,413.6 208.7,413.1 209.1,412.7 209.5,411.9 209.9,411.1 210.2,410.6 210.6,409.8 211.0,409.7 211.3,409.1 211.7,408.0 212.1,407.3 212.4,406.8 212.8,406.3 213.2,406.0 213.5,405.4 213.9,404.8 214.2,403.7 214.6,403.5 214.9,402.9 215.3,402.2 215.6,401.8 216.0,400.6 216.3,400.1 216.7,399.8 217.0,399.3 217.4,398.6 217.7,397.7 218.1,397.3 218.4,396.8 218.7,395.7 219.1,395.3 219.4,394.6 219.7,393.9 220.1,393.5 220.4,392.7 220.7,392.1 221.1,391.4 221.4,391.1 221.7,390.1 222.0,389.9 222.4,389.0 222.7,388.2 223.0,388.2 223.3,387.1 223.6,386.9 224.0,386.2 224.3,385.6 224.6,384.5 224.9,384.1 225.2,383.3 225.5,383.1 225.8,382.4 226.2,381.7 226.5,380.9 226.8,380.2 227.1,379.9 227.4,379.1 227.7,378.5 228.0,377.6 228.3,377.0 228.6,376.3 228.9,376.0 229.2,375.3 229.5,374.4 229.8,374.2 230.1,373.2 230.4,372.7 230.7,371.9 231.0,371.3 231.3,371.0 231.6,370.1 231.9,369.3 232.1,368.9 232.4,368.1 232.7,367.8 233.0,366.7 233.3,366.6 233.6,365.4 233.9,365.3 234.2,364.5 234.4,363.6 234.7,363.1 235.0,362.3 235.3,361.7 235.6,361.0 235.9,360.4 236.1,360.2 236.4,359.5 236.7,358.8 237.0,357.7 237.2,357.2 237.5,356.9 237.8,355.7 238.1,355.5 238.4,354.6 238.6,354.3 238.9,353.1 239.2,352.9 239.5,352.0 239.7,351.2 240.0,350.5 240.3,350.3 240.5,349.5 240.8,348.7 241.1,348.2 241.4,347.8 241.6,346.7 241.9,346.3 242.2,345.4 242.4,344.7 242.7,344.4 243.0,343.8 243.2,342.8 243.5,342.1 243.8,341.4 244.0,341.1 244.3,340.4 244.6,339.6 244.8,338.9 245.1,338.5 245.4,337.9 245.6,337.3 245.9,336.5 246.1,335.6 246.4,334.9 246.7,334.6 246.9,333.8 247.2,333.3 247.5,332.3 247.7,332.1 248.0,331.1 248.3,330.8 248.5,330.1 248.8,329.2 249.0,328.3 249.3,328.2 249.6,327.3 249.8,326.9 250.1,325.8 250.4,325.1 250.6,324.9 250.9,323.9 251.1,323.2 251.4,322.6 251.7,322.1 251.9,321.1 252.2,320.7 252.4,320.0 252.7,319.4 253.0,318.5 253.2,318.2 253.5,317.6 253.8,317.0 254.0,316.0 254.3,315.6 254.6,314.8 254.8,314.3 255.1,313.3 255.3,313.1 255.6,312.5 255.9,311.6 256.1,310.9 256.4,310.3 256.7,309.6 256.9,308.7 257.2,308.6 257.5,307.5 257.7,306.8 258.0,306.1 258.3,305.5 258.5,305.2 258.8,304.1 259.1,303.5 259.3,303.2 259.6,302.2 259.9,301.5 260.1,301.2 260.4,300.5 260.7,299.8 260.9,299.3 261.2,298.3 261.5,298.1 261.8,297.3 262.0,296.3 262.3,295.7 262.6,295.3 262.8,294.6 263.1,293.8 263.4,293.1 263.7,292.6 263.9,291.8 264.2,291.4 264.5,290.9 264.8,289.9 265.1,289.5 265.3,288.9 265.6,287.9 265.9,287.7 266.2,287.1 266.5,286.1 266.7,285.5 267.0,285.1 267.3,284.3 267.6,283.6 267.9,283.2 268.2,282.5 268.4,281.6 268.7,280.9 269.0,280.3 269.3,279.7 269.6,279.4 269.9,278.7 270.2,278.1 270.5,277.4 270.8,276.8 271.1,275.6 271.4,275.3 271.7,274.9 272.0,274.3 272.3,273.2 272.5,272.7 272.8,272.2 273.1,271.4 273.5,270.8 273.8,269.9 274.1,269.5 274.4,268.9 274.7,268.0 275.0,267.4 275.3,267.3 275.6,266.5 275.9,266.0 276.2,265.2 276.5,264.7 276.8,264.1 277.1,263.5 277.5,262.3 277.8,262.1 278.1,261.2 278.4,260.8 278.7,260.0 279.1,259.5 279.4,259.1 279.7,258.3 280.0,257.4 280.3,256.9 280.5,256.1 280.7,255.7 280.9,254.5 281.1,253.8 281.3,253.3 281.5,252.2 281.9,252.0 282.4,251.7 282.9,250.8 283.3,250.1 283.8,249.7 284.2,249.1 284.7,248.3 285.1,247.7 285.6,247.0 286.0,246.5 286.5,245.8 286.9,245.1 287.4,244.3 287.5,243.5 287.5,243.1 287.6,242.6 287.6,241.7 287.7,240.9 287.7,240.2 287.8,239.2 287.8,238.8 287.9,237.9 287.9,237.3 288.0,236.6 288.3,235.9 288.7,235.1 289.0,234.5 289.4,233.8 289.7,233.4 290.0,232.7 290.4,232.2 290.7,231.2 291.1,230.8 291.4,230.6 291.9,229.6 292.4,229.2 293.0,228.6 293.5,227.9 294.0,227.8 294.6,226.9 295.2,226.8 295.9,225.9 296.5,225.4 296.7,225.3 296.9,224.3 297.0,223.3 297.2,222.9 297.4,222.2 297.6,221.7 297.8,220.6 297.9,220.0 298.1,219.8 298.3,219.0 299.1,218.3 299.8,218.1 300.6,217.8 301.3,217.8 302.1,217.5 302.8,217.3 303.0,216.6 303.2,215.7 303.4,215.1 303.6,214.4 303.9,213.7 304.1,212.8 304.3,212.3 304.5,211.5 305.0,211.0 305.5,209.8 306.0,209.7 306.5,208.5 307.1,208.5 307.8,207.9 308.5,207.4 309.1,207.2 309.4,206.3 309.7,205.5 310.0,205.1 310.2,204.6 310.5,203.7 310.8,202.9 311.1,202.3 311.4,201.7 312.1,201.5 312.8,200.8 313.6,200.5 314.3,200.2 315.0,199.7 315.3,199.0 315.7,198.7 316.0,198.0 316.3,197.1 316.6,196.4 317.0,195.6 317.3,195.0 318.0,194.4 318.7,194.2 319.3,193.8 320.0,193.0 320.7,193.1 321.3,192.1 321.8,191.9 322.4,191.3 323.0,190.9 323.5,189.8 324.1,189.3 324.7,189.2 325.2,188.2 325.8,187.8 326.4,187.7 327.0,187.2 327.5,187.0 328.1,186.5 328.5,185.7 329.0,185.4 329.4,184.5 329.9,183.9 330.3,183.4 330.8,182.6 331.2,181.9 331.7,181.5 332.1,180.7 332.7,180.7 333.3,180.0 333.8,179.4 334.4,178.7 335.0,178.4 335.7,178.6 336.5,178.8 337.2,179.0 337.5,178.5 337.9,178.0 338.2,177.0 338.5,176.4 338.9,175.9 339.2,175.5 339.9,174.7 340.6,174.4 341.3,174.1 341.8,173.0 342.4,172.4 342.9,172.1 343.4,171.3 344.1,170.9 344.8,170.4 345.5,170.7 346.1,170.1 346.7,169.7 347.3,169.3 347.9,168.8 348.5,168.0 349.1,167.4 349.6,166.9 350.1,166.6 350.6,166.1 351.1,165.3 351.6,164.8 352.1,164.6 352.6,164.1 353.3,163.5 354.0,163.5 354.7,162.8 355.4,162.0 356.1,161.8 356.8,162.0 357.5,161.6 358.2,161.8 358.9,161.2 359.6,161.3 360.3,161.6 361.0,161.3 361.7,161.3 362.4,160.7 363.1,160.6 363.8,160.4 364.5,159.9 365.2,159.9 365.8,159.4 366.4,159.2 366.9,158.5 367.5,157.9 368.1,157.2 368.7,156.8 369.2,156.7 369.7,155.7 370.2,155.2 370.8,154.8 371.3,154.5 371.8,154.2 372.3,153.6 372.9,154.3 373.4,154.3 374.0,154.8 374.5,155.9 375.1,156.2 375.8,156.7 376.5,156.8 377.2,156.9 377.9,157.3 378.6,157.4 379.0,157.3 379.4,156.4 379.9,155.5 380.3,154.9 380.7,154.1 381.0,153.2 381.3,153.1 381.5,152.2 381.8,151.7 382.1,150.7 382.4,150.1 382.7,149.1 382.9,148.3 383.2,148.2 383.5,147.4 384.2,147.4 384.9,148.2 385.6,148.5 386.3,148.5 387.0,149.0 387.7,149.6 388.1,148.7 388.5,148.4 388.9,147.3 389.3,146.8 389.7,146.5 390.1,145.5 390.5,145.0 391.1,145.8 391.6,145.9 392.2,146.6 392.7,146.6 393.3,147.0 393.6,146.4 393.9,145.6 394.2,145.4 394.5,144.3 394.8,143.7 395.1,142.7 395.4,142.3 395.9,142.7 396.5,143.3 397.1,143.6 397.6,144.1 397.9,143.9 398.1,142.8 398.4,142.0 398.6,141.3 398.9,140.6 399.1,139.8 399.4,139.0 399.9,140.0 400.4,140.3 400.9,140.8 401.4,141.8 401.9,141.9 402.2,141.4 402.5,141.1 402.8,140.0 403.1,139.6 403.3,139.2 403.6,138.5 403.9,137.5 404.2,136.9 404.5,136.6 404.9,136.9 405.4,137.9 405.8,137.9 406.2,139.0 406.7,139.2 407.1,139.6 407.4,139.1 407.7,138.2 408.0,137.9 408.3,136.9 408.6,136.7 408.9,135.8 409.2,135.0 409.5,134.2 409.8,133.8 410.3,134.1 410.8,135.2 411.4,135.4 411.9,136.3 412.4,136.9 412.7,136.1 413.0,135.8 413.3,134.9 413.6,134.4 413.8,133.7 414.1,132.9 414.4,132.3 414.7,131.5 415.0,130.9 415.5,132.0 416.1,132.3 416.6,133.1 417.2,133.4 417.7,134.3 418.0,133.6 418.4,133.1 418.7,132.3 419.0,131.5 419.3,131.0 419.6,130.4 420.0,129.7 420.3,129.5 420.7,129.7 421.2,130.4 421.6,131.3 422.0,131.8 422.5,132.4 422.9,133.0 423.2,131.8 423.6,131.3 423.9,130.5 424.2,130.3 424.6,129.6 424.9,128.8 425.3,128.2 425.6,127.7 426.1,128.3 426.6,128.5 427.1,129.4 427.7,129.6 428.2,130.4 428.7,130.6 429.0,129.8 429.2,129.7 429.5,128.9 429.8,128.2 430.0,127.0 430.3,126.4 430.5,125.8 430.8,125.1 431.3,125.7 431.9,126.3 432.4,126.6 432.9,127.3 433.5,128.1 434.0,128.3 434.3,128.1 434.6,127.3 435.0,126.7 435.3,125.8 435.6,125.3 436.0,124.8 436.3,123.9 436.6,123.1 437.1,124.2 437.5,124.8 438.0,125.0 438.4,125.4 438.9,126.6 439.3,127.0 439.6,125.9 439.9,125.4 440.3,124.6 440.6,124.5 440.9,123.4 441.2,123.2 441.6,122.4 441.9,121.3 442.4,122.4 442.9,122.8 443.5,123.7 444.0,124.4 444.5,124.6 444.9,123.9 445.3,123.8 445.7,122.8 446.0,122.5 446.4,121.6 446.8,121.0 447.2,120.4 447.6,120.9 448.0,121.4 448.4,121.8 448.8,122.9 449.1,123.3 449.5,124.0 449.9,125.0 450.3,125.0 450.6,124.8 450.9,123.6 451.2,123.3 451.5,122.7 451.8,121.6 452.1,121.1 452.4,120.7 452.7,119.8 453.0,119.0 453.5,119.3 454.0,119.7 454.6,120.5 455.1,121.0 455.6,121.4 456.1,120.8 456.7,119.9 457.2,119.6"/>
<path stroke="#f20000" stroke-width="3" d="M75.3,460.8 75.6,467.6 76.2,463.2 76.9,468.0 77.6,464.0 78.4,468.2 79.3,465.0 80.2,468.4 81.2,465.9 83.2,467.4 84.2,468.3 85.1,467.3 85.7,467.3 86.4,468.4 87.1,467.2 87.8,468.0 88.6,467.7 89.4,468.7 90.1,468.3 90.9,468.8 91.7,467.8 92.5,468.7 93.2,468.6 93.9,468.3 94.6,468.8 95.4,468.9 96.1,467.5 96.8,467.7 97.5,467.7 98.2,467.3 98.9,466.9 99.5,467.1 100.2,466.8 100.9,467.6 101.6,466.9 102.3,466.1 103.0,466.3 103.7,466.4 104.4,465.9 105.1,465.4 105.7,465.0 106.4,464.8 107.0,466.4 107.8,465.8 108.5,464.5 109.2,465.6 110.0,466.0 110.7,465.2 111.4,464.4 112.1,465.2 112.9,465.2 113.6,464.9 114.3,465.7 115.0,464.9 115.8,466.8 116.5,466.4 117.2,466.6 118.0,467.4 118.7,467.1 119.4,466.6 120.2,466.8 121.0,466.7 121.7,466.6 122.4,468.0 123.1,468.1 123.8,467.1 124.6,466.9 125.3,467.7 126.0,468.0 126.7,468.1 127.4,466.7 128.0,467.8 128.9,467.8 129.6,467.6 130.4,466.8 131.1,466.4 132.0,467.5 132.6,466.5 133.3,466.5 134.0,466.7 134.7,466.3 135.4,467.0 136.2,465.9 136.9,465.4 137.7,466.2 138.5,466.2 139.2,466.5 140.0,466.2 140.7,466.4 141.4,466.4 142.1,465.5 142.8,465.5 143.5,464.8 144.2,465.0 144.9,465.4 145.6,464.4 146.4,465.4 147.2,464.4 148.0,464.9 148.8,465.7 149.4,464.1 150.0,464.0 150.6,464.7 151.3,464.2 152.0,465.1 152.7,463.8 153.4,465.3 154.1,465.3 154.8,465.1 155.5,464.4 156.2,464.1 157.0,464.8 157.7,464.5 158.5,464.3 159.2,464.1 160.0,464.3 160.7,464.7 161.5,464.9 162.2,465.1 162.9,463.7 163.6,463.9 164.4,464.2 165.1,464.4 165.7,463.9 166.4,463.7 167.2,463.4 167.9,463.8 168.6,464.1 169.3,465.0 170.1,464.8 170.8,464.7 171.5,464.9 172.2,464.9 172.9,464.3 173.6,464.6 174.2,463.2 174.9,464.3 175.6,464.2 176.3,463.6 177.1,464.1 177.8,464.7 178.5,463.8 179.2,464.1 180.0,463.4 180.7,463.5 181.3,464.4 182.0,462.8 182.7,463.1 183.4,463.9 184.0,463.4 184.7,462.7 185.4,463.7 186.1,463.1 186.8,463.4 187.6,463.0 188.3,463.2 189.0,463.2 189.7,462.8 190.4,462.2 191.1,462.3 191.8,463.5 192.5,462.8 193.3,461.9 194.0,463.2 194.7,462.0 195.4,461.7 196.1,462.4 196.8,461.8 197.5,462.2 198.2,462.2 198.9,461.6 199.6,462.1 200.3,461.2 201.1,461.9 201.8,462.0 202.5,461.0 203.2,461.5 203.9,460.9 204.7,461.5 205.4,462.2 206.1,461.5 206.8,461.8 207.5,461.8 208.2,460.5 208.9,462.0 209.6,461.5 210.3,460.3 211.0,461.5 211.7,460.7 212.4,460.2 213.0,461.5 213.7,460.7 214.4,461.0 215.0,459.7 215.8,460.8 216.6,459.3 217.3,459.5 218.1,459.6 218.8,458.8 219.6,459.7 220.3,458.9 221.0,458.9 221.7,459.5 222.4,458.8 223.1,459.5 223.8,458.8 224.5,459.1 225.2,458.4 225.9,458.9 226.6,458.6 227.3,457.2 228.0,458.1 228.7,457.2 229.5,457.8 230.2,457.5 230.9,457.7 231.6,456.3 232.2,456.6 232.9,457.1 233.6,457.3 234.3,456.7 235.0,455.3 235.7,456.1 236.4,455.0 237.1,455.6 237.8,455.7 238.4,454.3 239.0,455.4 239.6,454.7 240.3,453.9 240.9,453.6 241.5,453.4 242.1,453.3 242.8,452.8 243.4,452.1 244.0,451.7 244.6,451.4 245.3,451.4 245.9,450.7 246.5,450.5 247.1,450.0 247.7,449.8 248.3,449.2 248.9,448.7 249.5,448.8 250.1,448.2 250.7,447.9 251.3,447.6 251.9,447.4 252.5,446.4 253.1,446.3 253.7,445.8 254.3,445.6 254.9,445.5 255.5,445.0 256.1,444.2 256.7,443.9 257.2,443.9 257.8,443.4 258.4,442.8 258.9,442.5 259.5,441.9 260.0,441.9 260.6,441.1 261.1,441.0 261.7,440.4 262.2,439.6 262.8,439.2 263.3,438.7 263.8,438.6 264.3,437.9 264.9,437.0 265.4,436.6 265.9,436.2 266.4,435.7 266.9,435.2 267.4,434.6 267.9,434.1 268.4,433.3 268.8,433.2 269.3,432.5 269.8,431.8 270.2,431.6 270.7,431.3 271.2,430.2 271.7,429.6 272.1,429.4 272.6,428.5 273.0,428.0 273.5,427.5 273.9,426.8 274.3,426.4 274.7,425.8 275.2,425.6 275.6,425.1 276.0,424.0 276.4,423.8 277.0,423.3 277.7,422.7 278.4,421.9 279.1,421.2 279.7,420.6 280.2,419.9 280.6,419.6 280.7,419.8 280.8,419.1 281.0,418.4 281.1,417.6 281.3,416.7 281.4,416.3 281.6,415.6 281.7,414.8 281.9,414.1 282.0,413.3 282.2,412.7 282.3,412.0 282.5,411.0 282.7,410.5 282.9,409.7 283.0,409.3 283.2,408.3 283.4,407.5 284.0,407.0 284.7,406.6 285.4,406.2 286.0,405.7 286.2,405.0 286.4,404.7 286.5,403.8 286.7,403.1 286.9,402.4 287.1,401.6 287.3,400.8 287.4,400.1 287.6,399.5 287.8,398.8 288.7,399.3 289.5,399.5 290.4,399.9 290.6,398.9 290.9,398.5 291.1,397.6 291.3,396.7 291.5,396.0 291.8,395.5 292.0,395.0 292.2,394.0 292.5,393.5 292.7,392.7 293.6,392.9 294.4,392.5 295.3,392.7 295.6,392.2 295.8,391.2 296.1,390.5 296.4,389.7 296.6,389.0 296.9,388.4 297.1,387.9 297.4,387.0 298.1,387.3 298.8,387.4 299.5,387.9 299.7,387.3 300.0,386.5 300.2,385.5 300.4,385.1 300.6,384.5 300.9,383.7 301.1,382.7 301.3,382.4 301.6,381.7 301.8,380.7 302.7,380.5 303.6,380.4 304.5,380.4 304.7,379.9 304.9,379.1 305.1,378.5 305.3,377.5 305.6,376.8 305.8,376.3 306.0,375.6 306.2,374.8 306.4,374.2 306.6,373.3 307.4,373.3 308.1,373.6 308.9,373.5 309.1,373.1 309.4,372.3 309.6,371.7 309.8,371.1 310.1,370.3 310.3,369.7 310.6,368.8 310.8,368.6 311.0,367.8 311.3,367.3 311.5,366.2 311.8,365.8 312.1,365.2 312.5,364.3 312.8,363.5 313.1,362.9 313.4,362.2 313.7,361.8 314.1,360.8 314.4,360.5 314.7,359.7 315.4,359.6 316.1,359.5 316.9,359.4 317.6,359.4 317.8,358.7 318.0,357.9 318.2,357.4 318.4,356.5 318.6,356.0 318.8,355.4 319.0,354.7 319.2,353.8 319.4,353.3 320.3,353.2 321.1,352.8 322.0,352.5 322.3,352.0 322.5,351.5 322.8,350.5 323.1,349.8 323.4,349.3 323.6,348.8 323.9,348.2 324.2,347.3 324.4,347.0 324.7,346.0 325.5,345.8 326.4,345.1 326.7,344.4 326.9,343.7 327.2,343.0 327.4,342.5 327.7,341.8 327.9,340.9 328.2,340.6 328.8,339.5 329.3,338.5 329.6,337.9 329.9,337.5 330.2,336.9 330.5,335.8 330.8,335.1 331.1,334.8 331.4,333.8 331.7,333.5 332.0,332.6 332.5,332.1 333.0,331.4 333.6,331.1 334.1,330.4 334.6,329.8 334.9,329.5 335.2,328.4 335.6,328.1 335.9,327.1 336.2,326.7 336.6,326.0 336.9,325.5 337.2,324.5 337.9,324.3 338.7,323.8 339.4,323.6 340.2,323.1 340.5,322.3 340.7,321.4 341.0,320.7 341.2,320.1 341.5,319.5 341.7,318.7 342.0,318.0 342.2,317.6 342.5,316.9 343.1,316.2 343.8,316.1 344.5,315.3 345.1,315.0 345.4,314.2 345.6,313.9 345.9,313.2 346.1,312.2 346.4,311.8 346.7,311.2 346.9,310.3 347.2,309.6 347.7,309.0 348.1,308.5 348.6,307.4 349.0,307.0 349.5,306.2 350.2,306.5 350.9,306.8 351.6,307.2 352.3,307.2 353.0,307.8 353.5,307.0 354.0,306.6 354.5,306.1 355.1,305.2 355.6,304.9 356.1,304.4 356.6,303.5 357.1,302.8 357.6,302.3 358.0,302.2 358.5,301.2 359.0,301.1 359.5,300.2 359.9,300.0 360.4,299.1 360.9,298.6 361.4,298.3 361.9,297.5 362.4,297.1 362.9,296.8 363.3,296.2 363.8,295.7 364.3,295.2 364.8,294.2 365.3,293.8 365.6,293.4 366.0,292.7 366.3,291.8 366.6,291.4 366.9,290.6 367.3,290.0 367.6,289.2 367.9,288.6 368.2,288.4 368.6,287.4 368.9,287.1 369.5,286.3 370.2,286.0 370.9,285.4 371.5,285.1 371.9,284.3 372.2,284.0 372.6,283.1 372.9,282.8 373.2,282.1 373.6,281.2 373.9,280.8 374.3,280.2 374.6,279.8 375.0,278.9 375.4,278.2 375.8,278.0 376.2,277.3 376.6,276.6 377.0,275.7 377.4,275.0 377.8,274.4 378.2,273.7 378.6,273.0 379.0,272.6 379.4,272.0 379.8,271.4 380.3,270.7 380.7,269.9 381.2,269.6 381.6,269.0 382.0,268.3 382.5,267.7 382.9,267.1 383.4,266.7 383.8,266.0 384.3,265.4 384.8,264.7 385.3,264.2 385.8,263.8 386.3,263.5 386.8,262.7 387.3,262.2 387.9,261.8 388.5,261.1 389.1,261.1 389.7,260.1 390.2,259.9 390.8,259.6 391.4,258.8 392.0,258.4 392.6,257.8 393.1,257.2 393.6,256.6 394.1,255.9 394.6,255.7 395.0,255.1 395.5,254.6 396.0,253.6 396.5,253.3 397.0,252.5 397.5,252.2 398.0,251.6 398.5,251.0 399.0,250.8 399.5,249.8 400.0,249.6 400.5,249.2 400.5,248.9 400.7,248.8 400.9,248.9 401.1,248.0 401.4,247.8 401.8,247.4 402.2,246.6 402.7,246.2 403.2,245.3 403.7,244.7 404.3,244.1 404.9,243.4 405.4,242.4 406.0,241.9 406.6,241.1 407.2,240.2 407.8,239.8 408.3,238.9 408.8,238.8 409.3,238.0 409.8,237.6 410.4,237.0 410.9,236.4 411.4,235.8 412.0,235.2 412.5,235.3 413.1,234.6 413.6,234.1 414.2,233.7 414.8,233.5 415.3,232.6 415.9,232.1 416.4,232.2 417.0,231.5 417.5,231.1 418.1,230.8 418.6,230.4 419.2,230.0 419.7,228.9 420.3,228.7 420.8,228.6 421.3,228.2 421.9,227.2 422.4,226.8 423.0,226.4 423.5,225.9 424.1,225.6 424.6,225.5 425.2,224.9 425.7,224.4 426.3,223.7 426.9,223.5 427.5,223.5 428.0,222.9 428.6,222.4 429.1,222.0 429.7,221.8 430.3,221.4 430.9,220.6 431.5,220.5 432.1,219.9 432.6,219.7 433.2,219.1 433.8,218.8 434.4,218.4 435.0,218.0 435.6,217.4 436.2,217.1 436.8,217.0 437.4,216.3 438.0,216.0 438.6,216.0 439.2,215.3 439.9,215.0 440.5,214.6 441.1,214.6 441.7,213.8 442.3,213.8 443.0,213.6 443.6,212.8 444.2,212.6 444.8,212.5 445.5,212.0 446.1,211.5 446.7,210.9 447.4,210.7 448.0,210.3 448.6,210.2 449.2,209.5 449.8,209.2 450.4,208.9 451.1,208.6 451.7,207.9 452.3,207.5 452.9,207.2 453.6,207.0 454.2,206.1 454.8,206.2 455.5,205.6 456.1,205.0 456.7,204.8 457.3,204.2 457.9,203.6 458.5,203.7 459.1,203.1 459.7,202.8 460.3,202.5 461.0,202.4 461.7,201.9 462.4,201.1 463.1,201.1 463.8,200.7 464.4,200.4 465.1,200.3 465.7,199.7 466.4,199.5 467.1,199.5 467.7,198.9 468.4,198.7 469.1,198.5 469.8,198.5 470.5,198.2 471.3,198.1 472.0,197.7 472.7,197.3 473.4,197.6 474.2,197.4 474.9,197.5 475.6,197.3 476.3,196.7 477.1,196.7 477.8,196.4 478.5,196.8 479.2,196.1 479.9,195.9 480.5,196.2 481.2,195.8 481.9,195.3 482.6,195.5 483.3,195.3 484.0,195.0 484.6,194.5 485.3,194.7 486.0,194.3 486.6,194.3 487.3,194.3 488.1,194.0 488.8,193.9 489.5,193.2 490.2,193.1 490.9,193.0 491.6,192.5 492.3,192.9 493.0,192.2 493.7,191.8 494.3,191.6 494.9,191.2 495.5,191.2 496.0,190.6 496.6,190.1 497.2,189.6 497.7,188.9 498.3,188.6 498.9,188.6 499.5,188.2 500.1,187.8 500.7,187.0 501.4,186.6 502.0,186.2 502.7,186.2 503.4,185.8 504.1,185.6 504.7,185.3 505.5,185.1 506.2,184.7 506.9,184.7 507.6,184.0 508.3,184.3 509.0,183.8 509.7,183.3 510.5,183.3 511.2,183.3 511.9,183.0 512.7,183.0 513.4,182.7 514.2,182.5 514.9,182.8 515.7,182.3 516.4,182.4 517.1,182.4 517.8,182.1 518.5,181.8 519.2,181.9 519.9,181.4 520.6,181.5 521.3,180.8 522.0,180.8 522.7,180.8 523.4,180.2 524.1,180.7 524.8,180.0 525.6,180.3 526.4,179.9 527.3,180.4 528.3,180.1 529.2,180.2 530.1,179.9 531.0,180.0 531.7,180.0 532.2,179.8 532.6,179.7 532.7,180.1 533.2,179.2 533.8,179.2 534.3,178.2 534.9,177.7 535.4,177.2 535.9,177.1 536.5,176.7 537.0,175.8 537.7,175.8 538.4,175.4 539.0,175.5 539.7,175.2 540.4,174.7 541.1,174.4 541.7,174.6 542.4,174.0 543.1,174.3 543.8,173.8 544.4,173.5 545.1,173.5 545.8,173.2 546.5,173.2 547.2,172.7 547.9,173.0 548.6,172.5 549.3,172.6 550.0,172.1 550.7,172.3 551.4,172.2 552.1,171.7 552.8,171.3 553.5,171.3 554.2,171.3 554.9,170.9 555.6,170.9 556.3,170.5 557.0,170.6 557.7,170.6 558.5,170.3 559.2,170.3 559.9,169.9 560.6,170.2 561.4,169.6 562.1,170.0 562.8,169.9 563.5,169.7 564.3,169.4 565.0,169.1 565.7,169.0 566.4,169.1 567.2,168.8 567.9,169.0 568.6,168.4 569.3,168.5 570.0,168.5 570.8,168.3 571.5,168.1 572.2,167.7 572.9,167.6 573.6,167.5 574.3,167.8 575.1,167.6 575.8,167.1 576.5,167.4 577.2,166.7 577.9,166.9 578.6,167.0 579.4,166.5 580.1,166.7 580.8,166.4 581.5,165.8 582.2,165.7 582.9,165.5 583.6,165.1 584.3,165.1 585.1,164.5 585.8,164.7 586.5,164.1 587.2,163.7 587.9,163.7 588.6,163.2 589.3,163.3 590.0,163.2 590.8,162.9 591.5,162.6 592.2,162.1 593.0,162.5 593.8,162.3 594.5,162.8 595.3,162.5 596.1,162.9 596.9,162.8 597.6,162.9 598.4,163.2"/>
</g>
<g font-size="20.5" text-anchor="middle">
<text x="74.7" y="523.2">0</text>
<text x="117.6" y="523.2">2</text>
<text x="160.5" y="523.2">4</text>
<text x="203.3" y="523.2">6</text>
<text x="246.2" y="523.2">8</text>
<text x="289.1" y="523.2">10</text>
<text x="332.0" y="523.2">12</text>
<text x="374.9" y="523.2">14</text>
<text x="417.7" y="523.2">16</text>
<text x="460.6" y="523.2">18</text>
<text x="503.5" y="523.2">20</text>
<text x="546.4" y="523.2">22</text>
<text x="589.3" y="523.2">24</text>
<text x="632.1" y="523.2">26</text>
<text x="675.0" y="523.2">28</text>
</g>
<g font-size="20.5" text-anchor="end">
<text x="58.2" y="469.4">0</text>
<text x="58.2" y="412.5">1</text>
<text x="58.2" y="355.7">2</text>
<text x="58.2" y="298.8">3</text>
<text x="58.2" y="242.0">4</text>
<text x="58.2" y="185.1">5</text>
<text x="58.2" y="128.3">6</text>
<text x="58.2" y="71.4">7</text>
<text x="58.2" y="14.6">8</text>
</g>
<text x="375" y="563.5" font-size="25" text-anchor="middle">Time (h)</text>
<text transform="translate(18.7,231.3) rotate(-90)" font-size="24.85" text-anchor="middle">H-uptake (wt %)</text>
<line x1="499.7" y1="372.5" x2="557.1" y2="372.5" stroke="#575757" stroke-width="2.5" stroke-linecap="round"/>
<text x="564.6" y="381.5" font-size="25" font-style="italic">B/C</text>
<text x="614.2" y="381.5" font-size="25" text-anchor="middle">=</text>
<text x="670.8" y="381.5" font-size="25" text-anchor="end">0.00</text>
<line x1="499.7" y1="406.5" x2="557.1" y2="406.5" stroke="#069206" stroke-width="2.5" stroke-linecap="round"/>
<text x="564.6" y="415.5" font-size="25" font-style="italic">B/C</text>
<text x="614.2" y="415.5" font-size="25" text-anchor="middle" font-weight="normal">≈</text>
<text x="670.8" y="415.5" font-size="25" text-anchor="end">0.09</text>
<line x1="499.7" y1="440.4" x2="557.1" y2="440.4" stroke="#1c6bdc" stroke-width="2.5" stroke-linecap="round"/>
<text x="564.6" y="449.5" font-size="25" font-style="italic">B/C</text>
<text x="614.2" y="449.5" font-size="25" text-anchor="middle" font-weight="normal">≈</text>
<text x="670.8" y="449.5" font-size="25" text-anchor="end">0.36</text>
<line x1="499.7" y1="474.2" x2="557.1" y2="474.2" stroke="#f20000" stroke-width="2.5" stroke-linecap="round"/>
<text x="564.6" y="483.5" font-size="25" font-style="italic">B/C</text>
<text x="614.2" y="483.5" font-size="25" text-anchor="middle" font-weight="normal">≈</text>
<text x="670.8" y="483.5" font-size="25" text-anchor="end">0.90</text>
<g stroke="#000" stroke-width="1.3" fill="none">
<path d="M114.75,20.980000000000018 V137.3 H290.55"/>
<line x1="114.75" y1="137.3" x2="111.95" y2="137.3"/>
<line x1="114.75" y1="122.8" x2="113.25" y2="122.8"/>
<line x1="114.75" y1="108.2" x2="111.95" y2="108.2"/>
<line x1="114.75" y1="93.7" x2="113.25" y2="93.7"/>
<line x1="114.75" y1="79.1" x2="111.95" y2="79.1"/>
<line x1="114.75" y1="64.6" x2="113.25" y2="64.6"/>
<line x1="114.75" y1="50.1" x2="111.95" y2="50.1"/>
<line x1="114.75" y1="35.5" x2="113.25" y2="35.5"/>
<line x1="114.75" y1="21.0" x2="111.95" y2="21.0"/>
<line x1="114.8" y1="137.3" x2="114.8" y2="140.10000000000002"/>
<line x1="132.3" y1="137.3" x2="132.3" y2="138.8"/>
<line x1="149.9" y1="137.3" x2="149.9" y2="140.10000000000002"/>
<line x1="167.5" y1="137.3" x2="167.5" y2="138.8"/>
<line x1="185.1" y1="137.3" x2="185.1" y2="140.10000000000002"/>
<line x1="202.7" y1="137.3" x2="202.7" y2="138.8"/>
<line x1="220.2" y1="137.3" x2="220.2" y2="140.10000000000002"/>
<line x1="237.8" y1="137.3" x2="237.8" y2="138.8"/>
<line x1="255.4" y1="137.3" x2="255.4" y2="140.10000000000002"/>
<line x1="273.0" y1="137.3" x2="273.0" y2="138.8"/>
<line x1="290.6" y1="137.3" x2="290.6" y2="140.10000000000002"/>
</g>
<g font-size="13.6" text-anchor="end">
<text x="110.4" y="141.0">0</text>
<text x="110.4" y="111.9">2</text>
<text x="110.4" y="82.8">4</text>
<text x="110.4" y="53.7">6</text>
<text x="110.4" y="24.6">8</text>
</g>
<g font-size="13.6" text-anchor="middle">
<text x="114.8" y="152.0">0.00</text>
<text x="149.9" y="152.0">0.20</text>
<text x="185.1" y="152.0">0.40</text>
<text x="220.2" y="152.0">0.60</text>
<text x="255.4" y="152.0">0.80</text>
<text x="290.6" y="152.0">1.00</text>
</g>
<text x="202.5" y="177.2" font-size="17.1" text-anchor="middle"><tspan font-style="italic">B/C</tspan> ratio</text>
<text transform="translate(97.7,78.6) rotate(-90)" font-size="16.8" text-anchor="middle">Incubation (h)</text>
<g stroke="#000" stroke-width="2" fill="none">
<line x1="118.7" y1="93.8" x2="127.0" y2="100.4" stroke-dasharray="8.6 13.2"/>
<line x1="135.3" y1="101.5" x2="173.8" y2="87.9" stroke-dasharray="8.6 13.2"/>
<line x1="182.5" y1="84.3" x2="268.9" y2="43.0" stroke-dasharray="8.6 13.2"/>
</g>
<rect x="111.2" y="87.3" width="7" height="7" fill="#000"/>
<rect x="127.1" y="99.6" width="7" height="7" fill="#000"/>
<rect x="174.5" y="82.9" width="7" height="7" fill="#000"/>
<rect x="269.5" y="37.5" width="7" height="7" fill="#000"/>
</svg>
</body></html>
